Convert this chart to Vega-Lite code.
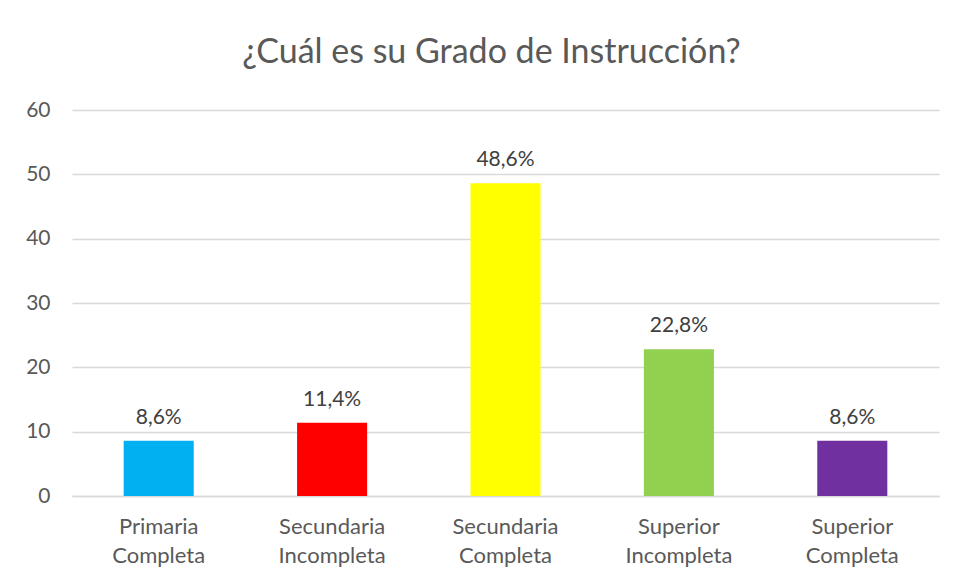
{
  "$schema": "https://vega.github.io/schema/vega-lite/v6.json",
  "width": 867,
  "height": 386,
  "autosize": {"type": "none"},
  "padding": {"left": 72, "top": 110, "right": 18, "bottom": 82},
  "background": "white",
  "title": {
    "text": "¿Cuál es su Grado de Instrucción?",
    "font": "Lato",
    "fontSize": 34,
    "fontWeight": "normal",
    "color": "#595959",
    "anchor": "middle",
    "baseline": "alphabetic",
    "offset": 2,
    "dx": -14
  },
  "data": {
    "values": [
      {"grado": "Primaria Completa", "valor": 8.6, "label": "8,6%"},
      {"grado": "Secundaria Incompleta", "valor": 11.4, "label": "11,4%"},
      {"grado": "Secundaria Completa", "valor": 48.6, "label": "48,6%"},
      {"grado": "Superior Incompleta", "valor": 22.8, "label": "22,8%"},
      {"grado": "Superior Completa", "valor": 8.6, "label": "8,6%"}
    ]
  },
  "encoding": {
    "x": {
      "field": "grado",
      "type": "nominal",
      "sort": null,
      "scale": {"paddingInner": 0.596, "paddingOuter": 0.298},
      "axis": {
        "title": null,
        "labelAngle": 0,
        "labelExpr": "split(datum.label, ' ')",
        "labelFont": "Lato",
        "labelFontSize": 22,
        "labelColor": "#595959",
        "labelLineHeight": 29,
        "labelPadding": 20,
        "ticks": false,
        "domainColor": "#d9d9d9",
        "domainWidth": 1.5,
        "grid": false
      }
    },
    "y": {
      "field": "valor",
      "type": "quantitative",
      "scale": {"domain": [0, 60]},
      "axis": {
        "title": null,
        "values": [0, 10, 20, 30, 40, 50, 60],
        "labelFont": "Lato",
        "labelFontSize": 21,
        "labelColor": "#595959",
        "labelPadding": 22,
        "ticks": false,
        "domain": false,
        "gridColor": "#d9d9d9",
        "gridWidth": 1.5
      }
    }
  },
  "layer": [
    {
      "mark": {"type": "bar"},
      "encoding": {
        "color": {
          "field": "grado",
          "type": "nominal",
          "sort": null,
          "scale": {
            "domain": ["Primaria Completa", "Secundaria Incompleta", "Secundaria Completa", "Superior Incompleta", "Superior Completa"],
            "range": ["#00B0F0", "#FF0000", "#FFFF00", "#92D050", "#7030A0"]
          },
          "legend": null
        }
      }
    },
    {
      "mark": {"type": "text", "dy": -17, "baseline": "alphabetic", "font": "Lato", "fontSize": 21, "color": "#404040"},
      "encoding": {"text": {"field": "label"}}
    }
  ],
  "config": {"view": {"stroke": null}}
}
